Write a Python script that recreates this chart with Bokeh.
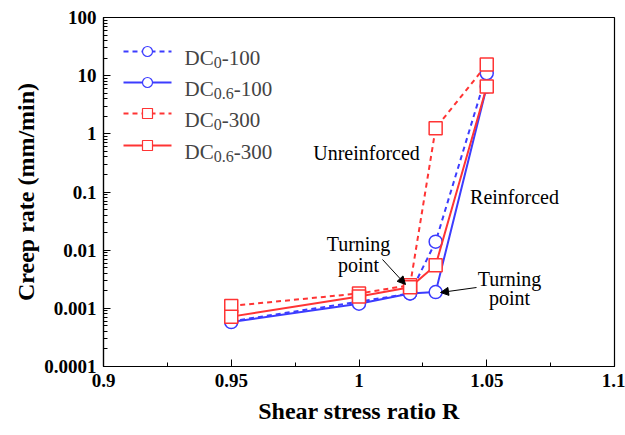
from bokeh.plotting import figure
from bokeh.models import FixedTicker, Label, Arrow, NormalHead
from bokeh.embed import file_html
from bokeh.resources import INLINE

# ---------------- data ----------------
R = [0.95, 1.0, 1.02, 1.03, 1.05]
dc0_100 = [0.0006, 0.0013, 0.0018, 0.014, 11.0]
dc06_100 = [0.00058, 0.0012, 0.0018, 0.0019, 6.5]
dc0_300 = [0.0011, 0.0018, 0.0025, 1.25, 15.5]
dc06_300 = [0.00072, 0.0016, 0.0023, 0.0055, 6.5]

x_ticks = [0.9, 0.95, 1.0, 1.05, 1.1]
x_tick_labels = ["0.9", "0.95", "1", "1.05", "1.1"]
x_minor = [0.925, 0.975, 1.025, 1.075]
y_ticks = [0.0001, 0.001, 0.01, 0.1, 1.0, 10.0, 100.0]
y_tick_labels = ["0.0001", "0.001", "0.01", "0.1", "1", "10", "100"]
y_minor = [k * 10.0 ** e for e in range(-4, 2) for k in range(2, 10)]

series_names = ["DC", "DC", "DC", "DC"]
series_subs = ["0", "0.6", "0", "0.6"]
series_tails = ["-100", "-100", "-300", "-300"]

BLUE = "#3c3cff"
RED = "#ff3434"
FONT = "Liberation Serif"

# ---------------- layout ----------------
W, H = 625, 435
L, Rm, T, B = 103, 11, 17, 69
FW, FH = W - L - Rm, H - T - B
X0, X1 = 0.9, 1.1
LY0, LY1 = -4, 2


def px2x(px):
    return X0 + (px - L) * (X1 - X0) / FW


def py2y(py):
    return 10 ** (LY1 - (py - T) * (LY1 - LY0) / FH)


p = figure(width=W, height=H, x_range=(X0, X1), y_range=(1e-4, 100),
           y_axis_type="log", output_backend="svg", toolbar_location=None,
           min_border_left=L, min_border_right=Rm, min_border_top=T,
           min_border_bottom=B)
p.grid.visible = False
p.outline_line_color = "black"
p.outline_line_width = 1.2
p.background_fill_color = "white"
p.border_fill_color = "white"

# axes
p.xaxis.ticker = FixedTicker(ticks=x_ticks, minor_ticks=x_minor)
p.xaxis.major_label_overrides = dict(zip(x_ticks, x_tick_labels))
p.yaxis.ticker = FixedTicker(ticks=y_ticks, minor_ticks=y_minor)
p.yaxis.major_label_overrides = dict(zip(y_ticks, y_tick_labels))
for ax in (p.xaxis[0], p.yaxis[0]):
    ax.major_tick_in = 7
    ax.major_tick_out = 0
    ax.minor_tick_in = 4
    ax.minor_tick_out = 0
    ax.axis_line_color = "black"
    ax.axis_line_width = 1.2
    ax.major_tick_line_color = "black"
    ax.minor_tick_line_color = "black"
    ax.major_label_text_font = FONT
    ax.major_label_text_font_style = "bold"
    ax.major_label_text_font_size = "19px"
    ax.major_label_text_color = "black"
    ax.major_label_standoff = 7
    ax.axis_label_text_font = FONT
    ax.axis_label_text_font_style = "bold"
    ax.axis_label_text_font_size = "24px"
    ax.axis_label_text_color = "black"
p.yaxis.axis_label = "Creep rate (mm/min)"
p.yaxis.axis_label_standoff = 2
p.xaxis.axis_label = "Shear stress ratio R"
p.xaxis.axis_label_standoff = 8

# ---------------- series ----------------
series = [
    (dc0_100, BLUE, "5 4", "circle"),
    (dc06_100, BLUE, "solid", "circle"),
    (dc0_300, RED, "5 4", "square"),
    (dc06_300, RED, "solid", "square"),
]
for vals, col, dash, mk in series:
    p.line(R, vals, line_color=col, line_width=2, line_dash=dash)
    p.scatter(R, vals, marker=mk, size=13, line_color=col, line_width=1.5,
              fill_color="white")

# ---------------- legend (manual, for subscripts) ----------------
leg_rows = [51, 82, 113, 145]
for (vals, col, dash, mk), row, nm, sub, tail in zip(series, leg_rows, series_names,
                                                     series_subs, series_tails):
    yy = py2y(row)
    p.line([px2x(123), px2x(171)], [yy, yy], line_color=col, line_width=2,
           line_dash=dash)
    p.scatter([px2x(147)], [yy], marker=mk, size=10, line_color=col,
              line_width=1.2, fill_color="white")
    xb = px2x(184)
    yb = py2y(row + 6)
    ys = py2y(row + 11)
    w_main = 29.2
    w_sub = 8.0 * len(sub.replace(".", "")) + (4.0 if "." in sub else 0)
    p.add_layout(Label(x=xb, y=yb, text=nm, text_font=FONT, text_font_size="21px",
                       text_baseline="alphabetic", text_align="left"))
    p.add_layout(Label(x=xb, y=ys, x_offset=w_main, text=sub, text_font=FONT,
                       text_font_size="16px", text_baseline="alphabetic",
                       text_align="left"))
    p.add_layout(Label(x=xb, y=yb, x_offset=w_main + w_sub, text=tail, text_font=FONT,
                       text_font_size="21px", text_baseline="alphabetic",
                       text_align="left"))

# ---------------- annotations ----------------
ann = [
    ("Unreinforced", 366, 152),
    ("Reinforced", 514, 196),
    ("Turning", 358, 243),
    ("point", 358, 264),
    ("Turning", 509, 278),
    ("point", 509, 297),
]
for txt, ax_, ay_ in ann:
    p.add_layout(Label(x=px2x(ax_), y=py2y(ay_), text=txt, text_font=FONT,
                       text_font_size="20px", text_align="center",
                       text_baseline="alphabetic", text_color="black"))

for (xs, ys_, xe, ye) in [(382, 259, 405, 284), (476, 287, 440, 292)]:
    p.add_layout(Arrow(end=NormalHead(size=8, fill_color="black", line_color="black"),
                       x_start=px2x(xs), y_start=py2y(ys_), x_end=px2x(xe),
                       y_end=py2y(ye), line_width=1, line_color="black"))

open("out.html", "w").write(file_html(p, INLINE))
